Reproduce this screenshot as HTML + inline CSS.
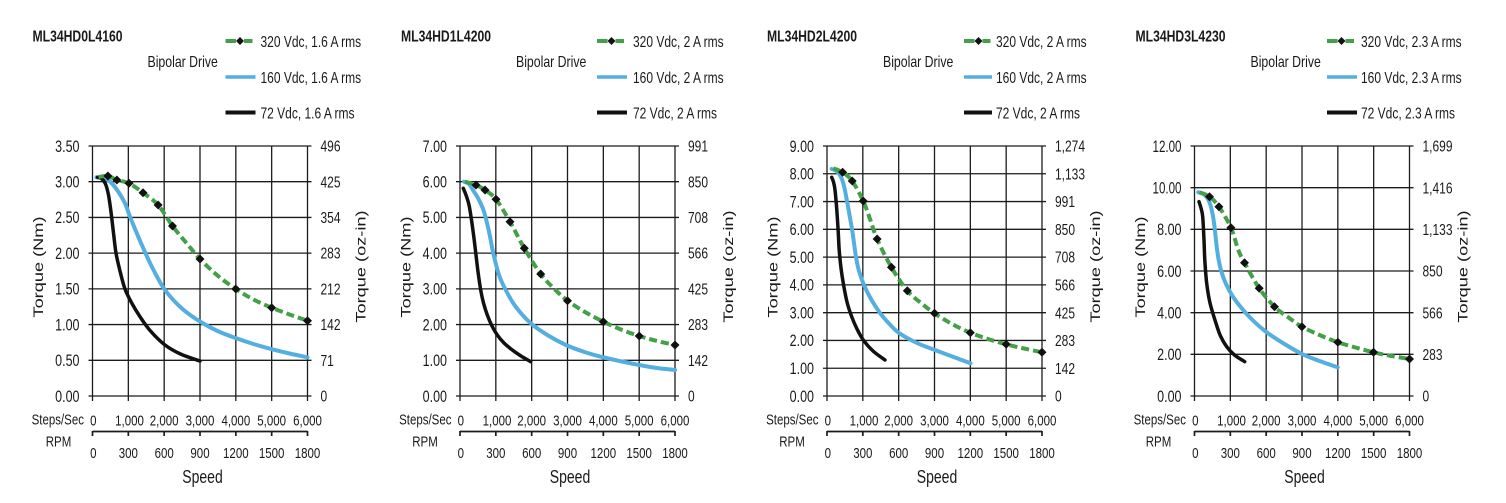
<!DOCTYPE html>
<html><head><meta charset="utf-8">
<style>
html,body{margin:0;padding:0;background:#fff;}
svg{display:block;}
text{font-family:"Liberation Sans",Arial,sans-serif;fill:#1a1a1a;}
.g{stroke:#1c1c1c;stroke-width:1.3;fill:none;}
.r{stroke:#1c1c1c;stroke-width:1.7;fill:none;}
.tt{font-weight:bold;font-size:12.2px;}
.lg{font-size:12px;}
.bd{font-size:12.3px;}
.yl{font-size:12.5px;text-anchor:end;}
.yr{font-size:12px;}
.xl{font-size:11.5px;text-anchor:middle;}
.axe{font-size:11.5px;text-anchor:end;}
.axm{font-size:11.5px;text-anchor:middle;}
.at{font-size:14px;text-anchor:middle;}
.gr{stroke:#43a047;stroke-width:4;fill:none;stroke-dasharray:8 4;}
.bl{stroke:#55aee0;stroke-width:4;fill:none;stroke-linejoin:round;stroke-linecap:round;}
.bk{stroke:#111;stroke-width:3.5;fill:none;stroke-linejoin:round;stroke-linecap:round;}
.mk{fill:#111;}
</style></head>
<body>
<svg width="1506" height="503" viewBox="0 0 1506 503" xmlns="http://www.w3.org/2000/svg">
<rect width="1506" height="503" fill="#fff"/>

<!-- ================= CHART 1 ================= -->
<g transform="translate(92.5,0)">
<text class="tt" transform="matrix(1 0 0 1.3 -60 41.5)">ML34HD0L4160</text>
<text class="bd" transform="matrix(1 0 0 1.3 55 67)">Bipolar Drive</text>
<path d="M133,41H143.5M151.5,41H160" stroke="#43a047" stroke-width="4"/>
<path d="M147.5,37l4,4-4,4-4-4z" class="mk"/>
<path d="M133,77H163" stroke="#55aee0" stroke-width="3.5"/>
<path d="M133,112.5H163" stroke="#111" stroke-width="4"/>
<text class="lg" transform="matrix(1 0 0 1.3 168 47)">320 Vdc, 1.6 A rms</text>
<text class="lg" transform="matrix(1 0 0 1.3 168 83)">160 Vdc, 1.6 A rms</text>
<text class="lg" transform="matrix(1 0 0 1.3 168 118.5)">72 Vdc, 1.6 A rms</text>

<path class="g" d="M0,146V401M35.83,146V401M71.67,146V401M107.5,146V401M143.33,146V401M179.17,146V401M215,146V401M-4,146H219M-4,181.71H219M-4,217.43H219M-4,253.14H219M-4,288.86H219M-4,324.57H219M-4,360.29H219M-4,396H219"/>
<path class="r" d="M0,431.5H215M0,431V436M35.83,431.5V436M71.67,431.5V436M107.5,431.5V436M143.33,431.5V436M179.17,431.5V436M215,431V436"/>

<text class="yl" transform="matrix(1 0 0 1.3 -13 151.8)">3.50</text>
<text class="yl" transform="matrix(1 0 0 1.3 -13 187.5)">3.00</text>
<text class="yl" transform="matrix(1 0 0 1.3 -13 223.2)">2.50</text>
<text class="yl" transform="matrix(1 0 0 1.3 -13 258.9)">2.00</text>
<text class="yl" transform="matrix(1 0 0 1.3 -13 294.7)">1.50</text>
<text class="yl" transform="matrix(1 0 0 1.3 -13 330.4)">1.00</text>
<text class="yl" transform="matrix(1 0 0 1.3 -13 366.1)">0.50</text>
<text class="yl" transform="matrix(1 0 0 1.3 -13 401.8)">0.00</text>

<text class="yr" transform="matrix(1 0 0 1.3 228 151.6)">496</text>
<text class="yr" transform="matrix(1 0 0 1.3 228 187.3)">425</text>
<text class="yr" transform="matrix(1 0 0 1.3 228 223)">354</text>
<text class="yr" transform="matrix(1 0 0 1.3 228 258.7)">283</text>
<text class="yr" transform="matrix(1 0 0 1.3 228 294.5)">212</text>
<text class="yr" transform="matrix(1 0 0 1.3 228 330.2)">142</text>
<text class="yr" transform="matrix(1 0 0 1.3 228 365.9)">71</text>
<text class="yr" transform="matrix(1 0 0 1.3 228 401.6)">0</text>

<text class="xl" transform="matrix(1 0 0 1.3 0.8 425.5)">0</text>
<text class="xl" transform="matrix(1 0 0 1.3 37 425.5)">1,000</text>
<text class="xl" transform="matrix(1 0 0 1.3 71.67 425.5)">2,000</text>
<text class="xl" transform="matrix(1 0 0 1.3 107.5 425.5)">3,000</text>
<text class="xl" transform="matrix(1 0 0 1.3 143.33 425.5)">4,000</text>
<text class="xl" transform="matrix(1 0 0 1.3 179.17 425.5)">5,000</text>
<text class="xl" transform="matrix(1 0 0 1.3 215 425.5)">6,000</text>

<text class="xl" transform="matrix(1 0 0 1.3 0.8 458)">0</text>
<text class="xl" transform="matrix(1 0 0 1.3 35.83 458)">300</text>
<text class="xl" transform="matrix(1 0 0 1.3 71.67 458)">600</text>
<text class="xl" transform="matrix(1 0 0 1.3 107.5 458)">900</text>
<text class="xl" transform="matrix(1 0 0 1.3 143.33 458)">1200</text>
<text class="xl" transform="matrix(1 0 0 1.3 179.17 458)">1500</text>
<text class="xl" transform="matrix(1 0 0 1.3 215 458)">1800</text>

<text class="axe" transform="matrix(1 0 0 1.3 -8.5 424.5)">Steps/Sec</text>
<text class="axm" transform="matrix(1 0 0 1.3 -34 446.5)">RPM</text>
<text class="at" transform="matrix(1 0 0 1.3 110 483)">Speed</text>
<text class="at" transform="matrix(0 -1.3 1 0 -49.5 267)">Torque (Nm)</text>
<text class="at" transform="matrix(0 -1.3 1 0 272.8 266.5)">Torque (oz-in)</text>

<polyline class="s bl" points="4,177.3 12,178.5 18,182 25.8,191.7 32.5,203.3 37.5,216.7 44.2,233 50.8,248.3 60,268 72.5,290 90,309 107.8,321.7 125,331 143.8,338.3 161,344 179.8,349.3 197,353.5 215,357.3"/>
<polyline class="s bk" points="5,177.3 9,178.5 13,184 16,195 18.5,212 21,233 23.5,253 27.5,271 32.5,289 39.5,303.5 47.5,316.7 58,331 72.5,345 88,354 107.5,361"/>
<polyline class="s gr" points="6,177 15.4,176 24.4,180 36.5,183.3 50.5,192.7 65.6,205 80,226 93.5,242.5 107.5,259 125,275.5 143.3,289 161,299.5 179.2,307.7 197,314.5 215,320.7"/>
<path class="mk" d="M15.4,171.5l4.5,4.5-4.5,4.5-4.5-4.5zM24.4,175.5l4.5,4.5-4.5,4.5-4.5-4.5zM36.5,178.8l4.5,4.5-4.5,4.5-4.5-4.5zM50.5,188.2l4.5,4.5-4.5,4.5-4.5-4.5zM65.6,200.5l4.5,4.5-4.5,4.5-4.5-4.5zM80,221.5l4.5,4.5-4.5,4.5-4.5-4.5zM107.5,254.5l4.5,4.5-4.5,4.5-4.5-4.5zM143.3,284.5l4.5,4.5-4.5,4.5-4.5-4.5zM179.2,303.2l4.5,4.5-4.5,4.5-4.5-4.5zM215,316.2l4.5,4.5-4.5,4.5-4.5-4.5z"/>
</g>

<!-- ================= CHART 2 ================= -->
<g transform="translate(460,0)">
<text class="tt" transform="matrix(1 0 0 1.3 -59 41.5)">ML34HD1L4200</text>
<text class="bd" transform="matrix(1 0 0 1.3 56 67)">Bipolar Drive</text>
<path d="M137,41H147.5M155.5,41H164" stroke="#43a047" stroke-width="4"/>
<path d="M151.5,37l4,4-4,4-4-4z" class="mk"/>
<path d="M137,77H167" stroke="#55aee0" stroke-width="3.5"/>
<path d="M137,112.5H167" stroke="#111" stroke-width="4"/>
<text class="lg" transform="matrix(1 0 0 1.3 173 47)">320 Vdc, 2 A rms</text>
<text class="lg" transform="matrix(1 0 0 1.3 173 83)">160 Vdc, 2 A rms</text>
<text class="lg" transform="matrix(1 0 0 1.3 173 118.5)">72 Vdc, 2 A rms</text>

<path class="g" d="M0,146V401M35.83,146V401M71.67,146V401M107.5,146V401M143.33,146V401M179.17,146V401M215,146V401M-4,146H219M-4,181.71H219M-4,217.43H219M-4,253.14H219M-4,288.86H219M-4,324.57H219M-4,360.29H219M-4,396H219"/>
<path class="r" d="M0,431.5H215M0,431V436M35.83,431.5V436M71.67,431.5V436M107.5,431.5V436M143.33,431.5V436M179.17,431.5V436M215,431V436"/>

<text class="yl" transform="matrix(1 0 0 1.3 -13 151.8)">7.00</text>
<text class="yl" transform="matrix(1 0 0 1.3 -13 187.5)">6.00</text>
<text class="yl" transform="matrix(1 0 0 1.3 -13 223.2)">5.00</text>
<text class="yl" transform="matrix(1 0 0 1.3 -13 258.9)">4.00</text>
<text class="yl" transform="matrix(1 0 0 1.3 -13 294.7)">3.00</text>
<text class="yl" transform="matrix(1 0 0 1.3 -13 330.4)">2.00</text>
<text class="yl" transform="matrix(1 0 0 1.3 -13 366.1)">1.00</text>
<text class="yl" transform="matrix(1 0 0 1.3 -13 401.8)">0.00</text>

<text class="yr" transform="matrix(1 0 0 1.3 228 151.6)">991</text>
<text class="yr" transform="matrix(1 0 0 1.3 228 187.3)">850</text>
<text class="yr" transform="matrix(1 0 0 1.3 228 223)">708</text>
<text class="yr" transform="matrix(1 0 0 1.3 228 258.7)">566</text>
<text class="yr" transform="matrix(1 0 0 1.3 228 294.5)">425</text>
<text class="yr" transform="matrix(1 0 0 1.3 228 330.2)">283</text>
<text class="yr" transform="matrix(1 0 0 1.3 228 365.9)">142</text>
<text class="yr" transform="matrix(1 0 0 1.3 228 401.6)">0</text>

<text class="xl" transform="matrix(1 0 0 1.3 0.8 425.5)">0</text>
<text class="xl" transform="matrix(1 0 0 1.3 37 425.5)">1,000</text>
<text class="xl" transform="matrix(1 0 0 1.3 71.67 425.5)">2,000</text>
<text class="xl" transform="matrix(1 0 0 1.3 107.5 425.5)">3,000</text>
<text class="xl" transform="matrix(1 0 0 1.3 143.33 425.5)">4,000</text>
<text class="xl" transform="matrix(1 0 0 1.3 179.17 425.5)">5,000</text>
<text class="xl" transform="matrix(1 0 0 1.3 215 425.5)">6,000</text>

<text class="xl" transform="matrix(1 0 0 1.3 0.8 458)">0</text>
<text class="xl" transform="matrix(1 0 0 1.3 35.83 458)">300</text>
<text class="xl" transform="matrix(1 0 0 1.3 71.67 458)">600</text>
<text class="xl" transform="matrix(1 0 0 1.3 107.5 458)">900</text>
<text class="xl" transform="matrix(1 0 0 1.3 143.33 458)">1200</text>
<text class="xl" transform="matrix(1 0 0 1.3 179.17 458)">1500</text>
<text class="xl" transform="matrix(1 0 0 1.3 215 458)">1800</text>

<text class="axe" transform="matrix(1 0 0 1.3 -8.5 424.5)">Steps/Sec</text>
<text class="axm" transform="matrix(1 0 0 1.3 -35 446.5)">RPM</text>
<text class="at" transform="matrix(1 0 0 1.3 110 483)">Speed</text>
<text class="at" transform="matrix(0 -1.3 1 0 -49.5 267)">Torque (Nm)</text>
<text class="at" transform="matrix(0 -1.3 1 0 272.8 266.5)">Torque (oz-in)</text>

<polyline class="s bl" points="4,181.7 9,184 14,191.7 19,200 24,211.7 29,231.7 33.3,253.3 39,275 45.7,290 55.7,306.7 70.7,323.3 87.3,335 106,345 126,352.5 144,357.5 162,361.5 179.3,365 197,368 215,370"/>
<polyline class="s bk" points="3.3,188.3 6,195 9,205 11.5,220 14,238.3 16,255 18,271.7 20.7,290 23.5,303 27.3,315 32,326 37.3,335 44,343 52.3,350 61,356 70.7,361.7"/>
<polyline class="s gr" points="5,181.7 16,185 25,190 36,199.3 50,221.7 64.3,248.3 80.7,274 94,288.5 107.5,300.7 125,312 143.3,321.7 161,329.5 179.2,336 197,341 215,345"/>
<path class="mk" d="M16,180.5l4.5,4.5-4.5,4.5-4.5-4.5zM25,185.5l4.5,4.5-4.5,4.5-4.5-4.5zM36,194.8l4.5,4.5-4.5,4.5-4.5-4.5zM50,217.2l4.5,4.5-4.5,4.5-4.5-4.5zM64.3,243.8l4.5,4.5-4.5,4.5-4.5-4.5zM80.7,269.5l4.5,4.5-4.5,4.5-4.5-4.5zM107.5,296.2l4.5,4.5-4.5,4.5-4.5-4.5zM143.3,317.2l4.5,4.5-4.5,4.5-4.5-4.5zM179.2,331.5l4.5,4.5-4.5,4.5-4.5-4.5zM215,340.5l4.5,4.5-4.5,4.5-4.5-4.5z"/>
</g>

<!-- ================= CHART 3 ================= -->
<g transform="translate(827,0)">
<text class="tt" transform="matrix(1 0 0 1.3 -60 41.5)">ML34HD2L4200</text>
<text class="bd" transform="matrix(1 0 0 1.3 56 67)">Bipolar Drive</text>
<path d="M137,41H147.5M155.5,41H163.5" stroke="#43a047" stroke-width="4"/>
<path d="M151.5,37l4,4-4,4-4-4z" class="mk"/>
<path d="M137,77H165" stroke="#55aee0" stroke-width="3.5"/>
<path d="M137,112.5H165" stroke="#111" stroke-width="4"/>
<text class="lg" transform="matrix(1 0 0 1.3 169 47)">320 Vdc, 2 A rms</text>
<text class="lg" transform="matrix(1 0 0 1.3 169 83)">160 Vdc, 2 A rms</text>
<text class="lg" transform="matrix(1 0 0 1.3 169 118.5)">72 Vdc, 2 A rms</text>

<path class="g" d="M0,146V401M35.83,146V401M71.67,146V401M107.5,146V401M143.33,146V401M179.17,146V401M215,146V401M-4,146H219M-4,173.78H219M-4,201.56H219M-4,229.33H219M-4,257.11H219M-4,284.89H219M-4,312.67H219M-4,340.44H219M-4,368.22H219M-4,396H219"/>
<path class="r" d="M0,431.5H215M0,431V436M35.83,431.5V436M71.67,431.5V436M107.5,431.5V436M143.33,431.5V436M179.17,431.5V436M215,431V436"/>

<text class="yl" transform="matrix(1 0 0 1.3 -13 151.8)">9.00</text>
<text class="yl" transform="matrix(1 0 0 1.3 -13 179.6)">8.00</text>
<text class="yl" transform="matrix(1 0 0 1.3 -13 207.4)">7.00</text>
<text class="yl" transform="matrix(1 0 0 1.3 -13 235.1)">6.00</text>
<text class="yl" transform="matrix(1 0 0 1.3 -13 262.9)">5.00</text>
<text class="yl" transform="matrix(1 0 0 1.3 -13 290.7)">4.00</text>
<text class="yl" transform="matrix(1 0 0 1.3 -13 318.5)">3.00</text>
<text class="yl" transform="matrix(1 0 0 1.3 -13 346.2)">2.00</text>
<text class="yl" transform="matrix(1 0 0 1.3 -13 374)">1.00</text>
<text class="yl" transform="matrix(1 0 0 1.3 -13 401.8)">0.00</text>

<text class="yr" transform="matrix(1 0 0 1.3 228 151.6)">1,274</text>
<text class="yr" transform="matrix(1 0 0 1.3 228 179.4)">1,133</text>
<text class="yr" transform="matrix(1 0 0 1.3 228 207.2)">991</text>
<text class="yr" transform="matrix(1 0 0 1.3 228 234.9)">850</text>
<text class="yr" transform="matrix(1 0 0 1.3 228 262.7)">708</text>
<text class="yr" transform="matrix(1 0 0 1.3 228 290.5)">566</text>
<text class="yr" transform="matrix(1 0 0 1.3 228 318.3)">425</text>
<text class="yr" transform="matrix(1 0 0 1.3 228 346)">283</text>
<text class="yr" transform="matrix(1 0 0 1.3 228 373.8)">142</text>
<text class="yr" transform="matrix(1 0 0 1.3 228 401.6)">0</text>

<text class="xl" transform="matrix(1 0 0 1.3 0.8 425.5)">0</text>
<text class="xl" transform="matrix(1 0 0 1.3 37 425.5)">1,000</text>
<text class="xl" transform="matrix(1 0 0 1.3 71.67 425.5)">2,000</text>
<text class="xl" transform="matrix(1 0 0 1.3 107.5 425.5)">3,000</text>
<text class="xl" transform="matrix(1 0 0 1.3 143.33 425.5)">4,000</text>
<text class="xl" transform="matrix(1 0 0 1.3 179.17 425.5)">5,000</text>
<text class="xl" transform="matrix(1 0 0 1.3 215 425.5)">6,000</text>

<text class="xl" transform="matrix(1 0 0 1.3 0.8 458)">0</text>
<text class="xl" transform="matrix(1 0 0 1.3 35.83 458)">300</text>
<text class="xl" transform="matrix(1 0 0 1.3 71.67 458)">600</text>
<text class="xl" transform="matrix(1 0 0 1.3 107.5 458)">900</text>
<text class="xl" transform="matrix(1 0 0 1.3 143.33 458)">1200</text>
<text class="xl" transform="matrix(1 0 0 1.3 179.17 458)">1500</text>
<text class="xl" transform="matrix(1 0 0 1.3 215 458)">1800</text>

<text class="axe" transform="matrix(1 0 0 1.3 -8.5 424.5)">Steps/Sec</text>
<text class="axm" transform="matrix(1 0 0 1.3 -35 446.5)">RPM</text>
<text class="at" transform="matrix(1 0 0 1.3 110 483)">Speed</text>
<text class="at" transform="matrix(0 -1.3 1 0 -49.5 267)">Torque (Nm)</text>
<text class="at" transform="matrix(0 -1.3 1 0 272.8 266.5)">Torque (oz-in)</text>

<polyline class="s bl" points="4.7,169 10,171.5 14,177 17,186 20,201 22.5,215 25,229 27,243 29,257 32,271 37,285 44,299 53,313 62,323.5 72,333 90,343 108,350 126,356.8 143.5,363.3"/>
<polyline class="s bk" points="4.7,177.3 6.5,182 8,190 9.8,210 11.3,233.3 12.2,250 14,268 16.3,283.3 20,302 24.7,316.7 30,329 36.3,340 46,351 58,360"/>
<polyline class="s gr" points="6.3,168.3 15.6,172.3 25.2,181 36.2,201 43,219 50.1,239 64.4,267.3 80.3,290.7 94,303 107.5,313.3 125,324 143.3,332.7 161,339 179.2,344.3 197,348.5 215,352.3"/>
<path class="mk" d="M15.6,167.8l4.5,4.5-4.5,4.5-4.5-4.5zM25.2,176.5l4.5,4.5-4.5,4.5-4.5-4.5zM36.2,196.5l4.5,4.5-4.5,4.5-4.5-4.5zM50.1,234.5l4.5,4.5-4.5,4.5-4.5-4.5zM64.4,262.8l4.5,4.5-4.5,4.5-4.5-4.5zM80.3,286.2l4.5,4.5-4.5,4.5-4.5-4.5zM107.5,308.8l4.5,4.5-4.5,4.5-4.5-4.5zM143.3,328.2l4.5,4.5-4.5,4.5-4.5-4.5zM179.2,339.8l4.5,4.5-4.5,4.5-4.5-4.5zM215,347.8l4.5,4.5-4.5,4.5-4.5-4.5z"/>
</g>

<!-- ================= CHART 4 ================= -->
<g transform="translate(1194.5,0)">
<text class="tt" transform="matrix(1 0 0 1.3 -59 41.5)">ML34HD3L4230</text>
<text class="bd" transform="matrix(1 0 0 1.3 56 67)">Bipolar Drive</text>
<path d="M132.5,41H143M151,41H159.5" stroke="#43a047" stroke-width="4"/>
<path d="M147,37l4,4-4,4-4-4z" class="mk"/>
<path d="M132.5,77H162.5" stroke="#55aee0" stroke-width="3.5"/>
<path d="M132.5,112.5H162.5" stroke="#111" stroke-width="4"/>
<text class="lg" transform="matrix(1 0 0 1.3 166.5 47)">320 Vdc, 2.3 A rms</text>
<text class="lg" transform="matrix(1 0 0 1.3 166.5 83)">160 Vdc, 2.3 A rms</text>
<text class="lg" transform="matrix(1 0 0 1.3 166.5 118.5)">72 Vdc, 2.3 A rms</text>

<path class="g" d="M0,146V401M35.83,146V401M71.67,146V401M107.5,146V401M143.33,146V401M179.17,146V401M215,146V401M-4,146H219M-4,187.67H219M-4,229.33H219M-4,271H219M-4,312.67H219M-4,354.33H219M-4,396H219"/>
<path class="r" d="M0,431.5H215M0,431V436M35.83,431.5V436M71.67,431.5V436M107.5,431.5V436M143.33,431.5V436M179.17,431.5V436M215,431V436"/>

<text class="yl" transform="matrix(1 0 0 1.3 -13 151.8)" textLength="29" lengthAdjust="spacingAndGlyphs">12.00</text>
<text class="yl" transform="matrix(1 0 0 1.3 -13 193.5)" textLength="29" lengthAdjust="spacingAndGlyphs">10.00</text>
<text class="yl" transform="matrix(1 0 0 1.3 -13 235.1)">8.00</text>
<text class="yl" transform="matrix(1 0 0 1.3 -13 276.8)">6.00</text>
<text class="yl" transform="matrix(1 0 0 1.3 -13 318.5)">4.00</text>
<text class="yl" transform="matrix(1 0 0 1.3 -13 360.1)">2.00</text>
<text class="yl" transform="matrix(1 0 0 1.3 -13 401.8)">0.00</text>

<text class="yr" transform="matrix(1 0 0 1.3 228 151.6)">1,699</text>
<text class="yr" transform="matrix(1 0 0 1.3 228 193.3)">1,416</text>
<text class="yr" transform="matrix(1 0 0 1.3 228 234.9)">1,133</text>
<text class="yr" transform="matrix(1 0 0 1.3 228 276.6)">850</text>
<text class="yr" transform="matrix(1 0 0 1.3 228 318.3)">566</text>
<text class="yr" transform="matrix(1 0 0 1.3 228 359.9)">283</text>
<text class="yr" transform="matrix(1 0 0 1.3 228 401.6)">0</text>

<text class="xl" transform="matrix(1 0 0 1.3 0.8 425.5)">0</text>
<text class="xl" transform="matrix(1 0 0 1.3 37 425.5)">1,000</text>
<text class="xl" transform="matrix(1 0 0 1.3 71.67 425.5)">2,000</text>
<text class="xl" transform="matrix(1 0 0 1.3 107.5 425.5)">3,000</text>
<text class="xl" transform="matrix(1 0 0 1.3 143.33 425.5)">4,000</text>
<text class="xl" transform="matrix(1 0 0 1.3 179.17 425.5)">5,000</text>
<text class="xl" transform="matrix(1 0 0 1.3 215 425.5)">6,000</text>

<text class="xl" transform="matrix(1 0 0 1.3 0.8 458)">0</text>
<text class="xl" transform="matrix(1 0 0 1.3 35.83 458)">300</text>
<text class="xl" transform="matrix(1 0 0 1.3 71.67 458)">600</text>
<text class="xl" transform="matrix(1 0 0 1.3 107.5 458)">900</text>
<text class="xl" transform="matrix(1 0 0 1.3 143.33 458)">1200</text>
<text class="xl" transform="matrix(1 0 0 1.3 179.17 458)">1500</text>
<text class="xl" transform="matrix(1 0 0 1.3 215 458)">1800</text>

<text class="axe" transform="matrix(1 0 0 1.3 -8.5 424.5)">Steps/Sec</text>
<text class="axm" transform="matrix(1 0 0 1.3 -36 446.5)">RPM</text>
<text class="at" transform="matrix(1 0 0 1.3 110 483)">Speed</text>
<text class="at" transform="matrix(0 -1.3 1 0 -49.5 267)">Torque (Nm)</text>
<text class="at" transform="matrix(0 -1.3 1 0 272.8 266.5)">Torque (oz-in)</text>

<polyline class="s bl" points="3.8,192.3 9,194 13.5,199 16.5,207 18.8,218 20.5,231 22,245 24,259 27,272 31.5,284 38,296 47,308 58,320 71.8,332 90,344 107.5,354 125,361 143.2,367.3"/>
<polyline class="s bk" points="4.5,201.7 6.5,208 8.2,216.7 9.5,240 10.3,260 12.2,283.3 15.5,303 21.5,323.3 26,336 32.2,346.7 40,355 50.2,361.7"/>
<polyline class="s gr" points="5,192.3 15,196.7 24.4,206.7 36.4,227.7 43.8,250 50,262.7 64.7,288.3 80,306.7 94,317.5 107.4,326.7 125,335 143.4,342.3 161,347.5 179,352.3 197,356 215,359"/>
<path class="mk" d="M15,192.2l4.5,4.5-4.5,4.5-4.5-4.5zM24.4,202.2l4.5,4.5-4.5,4.5-4.5-4.5zM36.4,223.2l4.5,4.5-4.5,4.5-4.5-4.5zM50,258.2l4.5,4.5-4.5,4.5-4.5-4.5zM64.7,283.8l4.5,4.5-4.5,4.5-4.5-4.5zM80,302.2l4.5,4.5-4.5,4.5-4.5-4.5zM107.4,322.2l4.5,4.5-4.5,4.5-4.5-4.5zM143.4,337.8l4.5,4.5-4.5,4.5-4.5-4.5zM179,347.8l4.5,4.5-4.5,4.5-4.5-4.5zM215,354.5l4.5,4.5-4.5,4.5-4.5-4.5z"/>
</g>
</svg>
<script>
(function(){
  var list = document.querySelectorAll('polyline.s');
  for (var n = 0; n < list.length; n++) {
    var pl = list[n];
    var raw = pl.getAttribute('points').trim().split(/\s+/);
    var pts = raw.map(function(p){var a = p.split(','); return [parseFloat(a[0]), parseFloat(a[1])];});
    var d = 'M' + pts[0][0] + ',' + pts[0][1];
    for (var i = 0; i < pts.length - 1; i++) {
      var p0 = pts[i-1] || pts[i], p1 = pts[i], p2 = pts[i+1], p3 = pts[i+2] || pts[i+1];
      var c1x = p1[0] + (p2[0]-p0[0])/6, c1y = p1[1] + (p2[1]-p0[1])/6;
      var c2x = p2[0] - (p3[0]-p1[0])/6, c2y = p2[1] - (p3[1]-p1[1])/6;
      d += ' C' + c1x.toFixed(2) + ',' + c1y.toFixed(2) + ' ' + c2x.toFixed(2) + ',' + c2y.toFixed(2) + ' ' + p2[0] + ',' + p2[1];
    }
    var path = document.createElementNS('http://www.w3.org/2000/svg', 'path');
    path.setAttribute('class', pl.getAttribute('class'));
    path.setAttribute('d', d);
    pl.parentNode.replaceChild(path, pl);
  }
})();
</script>
</body></html>
